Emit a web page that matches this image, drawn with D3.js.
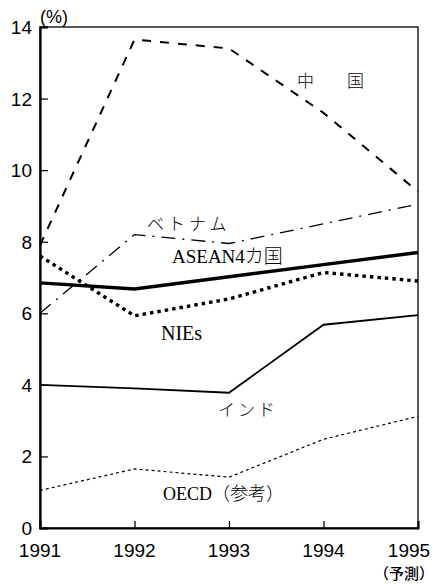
<!DOCTYPE html>
<html><head><meta charset="utf-8">
<script src="https://cdn.jsdelivr.net/npm/d3@7"></script>
<style>html,body{margin:0;padding:0;background:#fff;}svg{display:block;}</style>
</head><body>
<svg id="c" width="442" height="584"></svg>
<script>
const years = [1991, 1992, 1993, 1994, 1995];
const yearLabels = ["1991", "1992", "1993", "1994", "1995"];
const yTicks = [0, 2, 4, 6, 8, 10, 12, 14];
const seriesNames = ["中国", "ベトナム", "ASEAN4カ国", "NIEs", "インド", "OECD（参考）"];
const china   = [7.9, 13.65, 13.4, 11.6, 9.4];
const vietnam = [6.0, 8.2, 7.95, 8.5, 9.05];
const asean4  = [6.85, 6.68, 7.02, 7.36, 7.7];
const nies    = [7.6, 5.93, 6.4, 7.14, 6.9];
const india   = [4.0, 3.9, 3.78, 5.68, 5.95];
const oecd    = [1.05, 1.65, 1.42, 2.48, 3.12];

const svg = d3.select("#c");
const x = d3.scaleLinear().domain([1991, 1995]).range([40, 418]);
const y = d3.scaleLinear().domain([0, 14]).range([528, 27]);

// frame
svg.append("rect").attr("x", 40).attr("y", 27).attr("width", 378).attr("height", 501)
  .attr("fill", "none").attr("stroke", "#000").attr("stroke-width", 1.3);

// y axis
const yAxis = svg.append("g").attr("transform", "translate(40,0)")
  .call(d3.axisRight(y).tickValues(yTicks).tickSize(8).tickFormat(""));
yAxis.select(".domain").attr("stroke-width", 2.2);
yAxis.selectAll(".tick line").attr("stroke-width", 1.2);
svg.append("g").selectAll("text").data(yTicks).join("text")
  .attr("x", 32).attr("y", d => y(d) + 7).attr("text-anchor", "end")
  .attr("font-family", "Liberation Sans, Arial, sans-serif").attr("font-size", 19)
  .text(d => d);
svg.append("text").attr("x", 40).attr("y", 23)
  .attr("font-family", "Liberation Sans, Arial, sans-serif").attr("font-size", 18).text("(%)");

// x axis
const xAxis = svg.append("g").attr("transform", "translate(0,528)")
  .call(d3.axisTop(x).tickValues(years).tickSize(7).tickFormat(""));
xAxis.select(".domain").attr("stroke-width", 2);
xAxis.selectAll(".tick line").attr("stroke-width", 1.3);
svg.append("g").selectAll("text").data(years).join("text")
  .attr("x", (d, i) => x(d) + (i === 4 ? -9 : 0)).attr("y", 557).attr("text-anchor", "middle")
  .attr("font-family", "Liberation Sans, Arial, sans-serif").attr("font-size", 19)
  .text((d, i) => yearLabels[i]);
svg.append("text").attr("x", 434).attr("y", 579).attr("text-anchor", "end")
  .attr("font-family", "Noto Sans CJK JP, sans-serif").attr("font-size", 15).attr("font-weight", 500)
  .text("（予測）");

// lines
const line = d3.line().x((d, i) => x(years[i])).y(d => y(d));
const series = [
  {v: china, w: 2, dash: "9,9"},
  {v: vietnam, w: 1.3, dash: "14,7,2,7"},
  {v: asean4, w: 3.4, dash: null},
  {v: nies, w: 3.4, dash: "3.5,4"},
  {v: india, w: 1.8, dash: null},
  {v: oecd, w: 1.2, dash: "3,3"}
];
svg.append("g").selectAll("path").data(series).join("path")
  .attr("d", s => line(s.v)).attr("fill", "none").attr("stroke", "#000")
  .attr("stroke-width", s => s.w).attr("stroke-dasharray", s => s.dash);

// labels
const serif = "Liberation Serif, Times New Roman, Noto Sans CJK JP, serif";
const lab = (t, xx, yy, fs, ls) => svg.append("text").attr("x", xx).attr("y", yy)
  .attr("font-family", serif).attr("font-size", fs).attr("font-weight", 300)
  .attr("letter-spacing", ls || 0).text(t);
lab("中　国", 297, 87, 17, 8);
lab(seriesNames[1], 147, 230, 17, 4);
lab(seriesNames[2], 172, 263, 19, 0);
lab(seriesNames[3], 161, 340, 20, 0);
lab(seriesNames[4], 218, 416, 17, 3);
lab(seriesNames[5], 163, 500, 18, 0);
</script>
</body></html>
